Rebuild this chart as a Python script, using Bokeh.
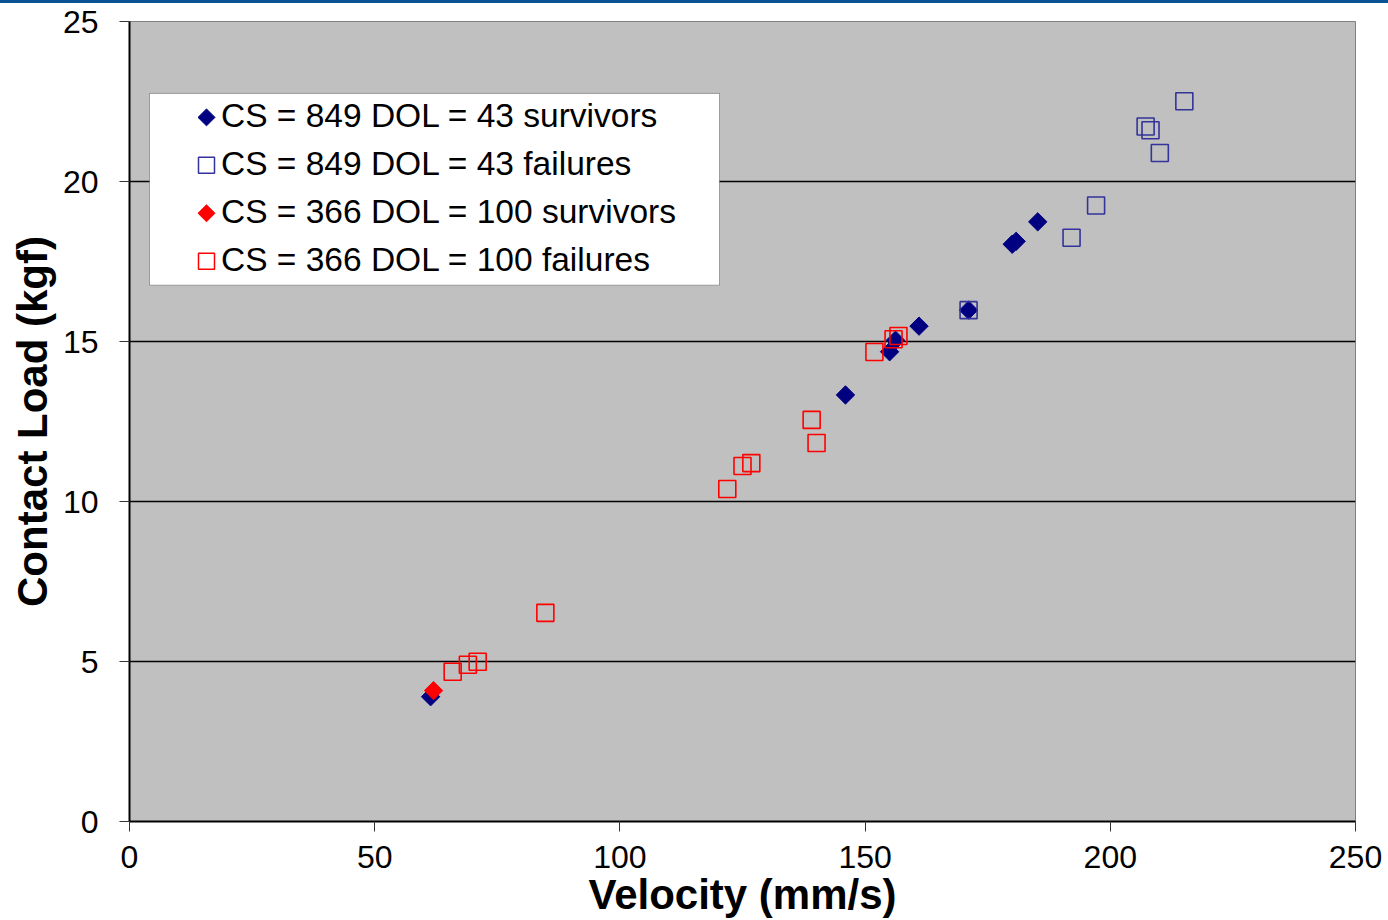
import math
from bokeh.plotting import figure
from bokeh.layouts import column
from bokeh.models import (Range1d, FixedTicker, Legend, LegendItem, BoxAnnotation, Div)
from bokeh.embed import file_html
from bokeh.resources import INLINE

# ---- data (velocity mm/s, contact load kgf) ----
cs849_surv_v = [61.4, 146.0, 155.0, 156.2, 161.0, 171.1, 180.0, 180.8, 185.2]
cs849_surv_l = [3.90, 13.33, 14.68, 15.04, 15.48, 15.98, 18.04, 18.13, 18.74]

cs849_fail_v = [171.1, 192.1, 197.1, 207.2, 208.2, 210.1, 215.1]
cs849_fail_l = [15.98, 18.24, 19.25, 21.72, 21.60, 20.89, 22.51]

cs366_surv_v = [62.0]
cs366_surv_l = [4.09]

cs366_fail_v = [65.9, 69.0, 71.0, 84.8, 121.9, 125.0, 126.8, 139.1, 140.1, 151.9, 155.8, 156.8]
cs366_fail_l = [4.68, 4.90, 4.99, 6.52, 10.39, 11.11, 11.20, 12.55, 11.83, 14.67, 15.07, 15.17]

series_labels = ["CS = 849 DOL = 43 survivors", "CS = 849 DOL = 43 failures",
                 "CS = 366 DOL = 100 survivors", "CS = 366 DOL = 100 failures"]
x_ticks = [0, 50, 100, 150, 200, 250]
y_ticks = [0, 5, 10, 15, 20, 25]

FONT = "Liberation Sans"
NAVY = "#000080"
NAVY_LINE = "#333399"
RED = "#FF0000"

X_MAX, Y_MAX = 250, 25
W = 1388
BAND_H = 3
H = 920 - BAND_H
BL, BT, BR, BB = 129, 21 - BAND_H, 33, 98
FRAME_W = W - BL - BR
FRAME_H = H - BT - BB

fig = figure(width=W, height=H, output_backend="svg", toolbar_location=None,
             x_range=Range1d(0, X_MAX), y_range=Range1d(0, Y_MAX),
             min_border_left=BL, min_border_top=BT, min_border_right=BR, min_border_bottom=BB)

fig.background_fill_color = "#C0C0C0"
fig.border_fill_color = "white"
fig.outline_line_color = "#808080"
fig.outline_line_width = 1

# grid
fig.xgrid.visible = False
fig.ygrid.ticker = FixedTicker(ticks=[5, 10, 15, 20])
fig.ygrid.grid_line_color = "black"
fig.ygrid.grid_line_width = 1.3

# axes
for ax in (fig.xaxis[0], fig.yaxis[0]):
    ax.axis_line_color = "black"
    ax.axis_line_width = 2
    ax.major_tick_line_color = "#333333"
    ax.major_tick_line_width = 1
    ax.major_tick_out = 10
    ax.major_tick_in = 0
    ax.minor_tick_out = 0
    ax.minor_tick_in = 0
    ax.major_label_text_font = FONT
    ax.major_label_text_font_size = "32px"
    ax.major_label_text_color = "black"
    ax.axis_label_text_font = FONT
    ax.axis_label_text_font_size = "42px"
    ax.axis_label_text_font_style = "bold"
    ax.axis_label_text_color = "black"

fig.xaxis.ticker = FixedTicker(ticks=x_ticks)
fig.yaxis.ticker = FixedTicker(ticks=y_ticks)
fig.xaxis.major_label_standoff = 14
fig.yaxis.major_label_standoff = 21
fig.xaxis.axis_label = "Velocity (mm/s)"
fig.yaxis.axis_label = "Contact Load (kgf)"
fig.xaxis.axis_label_standoff = 0
fig.yaxis.axis_label_standoff = 4

ang = math.pi / 4
r1 = fig.scatter(cs849_surv_v, cs849_surv_l, marker="square", angle=ang, size=13,
                 fill_color=NAVY, line_color=NAVY, line_width=1)
r2 = fig.scatter(cs849_fail_v, cs849_fail_l, marker="square", size=17,
                 fill_color=None, line_color=NAVY_LINE, line_width=1.6)
r3 = fig.scatter(cs366_surv_v, cs366_surv_l, marker="square", angle=ang, size=13,
                 fill_color=RED, line_color=RED, line_width=1)
r4 = fig.scatter(cs366_fail_v, cs366_fail_l, marker="square", size=17,
                 fill_color=None, line_color=RED, line_width=1.6)

# ---- legend layout (pixels from frame left / frame top) ----
LEG_BOX_L, LEG_BOX_R, LEG_BOX_T, LEG_BOX_B = 20, 590, 72, 264
ROW_H = 48
KEY_X = 77          # key centre from frame left
TEXT_X = 92         # text start from frame left
GLYPH_W = 30
LEG_X = TEXT_X - GLYPH_W

def px_to_x(px):
    return px / FRAME_W * X_MAX

def py_to_y(py):
    return (FRAME_H - py) / FRAME_H * Y_MAX

box = BoxAnnotation(left=px_to_x(LEG_BOX_L), right=px_to_x(LEG_BOX_R),
                    top=py_to_y(LEG_BOX_T), bottom=py_to_y(LEG_BOX_B),
                    fill_color="white", fill_alpha=1.0, line_color="black", line_width=1)
fig.add_layout(box)

# invisible stand-ins; the legend keys are drawn separately below
stand_ins = [fig.scatter([], [], marker="square", size=0, fill_alpha=0, line_alpha=0)
             for _ in series_labels]

legend = Legend(items=[LegendItem(label=lab, renderers=[r]) for lab, r in zip(series_labels, stand_ins)],
                location=(LEG_X, FRAME_H - LEG_BOX_T - 4 * ROW_H), padding=0, spacing=0, margin=0,
                glyph_width=GLYPH_W, glyph_height=30, label_height=ROW_H, label_standoff=0,
                label_text_font=FONT, label_text_font_size="33.5px", label_text_color="black",
                border_line_color=None, background_fill_alpha=0.0)
fig.add_layout(legend, "center")

key_x = px_to_x(KEY_X)
key_style = [
    dict(angle=ang, size=12, fill_color=NAVY, line_color=NAVY, line_width=1),
    dict(angle=0, size=16, fill_color=None, line_color=NAVY_LINE, line_width=1.5),
    dict(angle=ang, size=12, fill_color=RED, line_color=RED, line_width=1),
    dict(angle=0, size=16, fill_color=None, line_color=RED, line_width=1.5),
]
for i, st in enumerate(key_style):
    k = fig.scatter([key_x], [py_to_y(LEG_BOX_T + (i + 0.5) * ROW_H)], marker="square", **st)
    k.level = "overlay"

band = Div(text="", width=W, height=BAND_H, margin=0,
           styles={"background-color": "#0B5394"})
p = column(band, fig, spacing=0)

open("out.html", "w").write(file_html(p, INLINE))
